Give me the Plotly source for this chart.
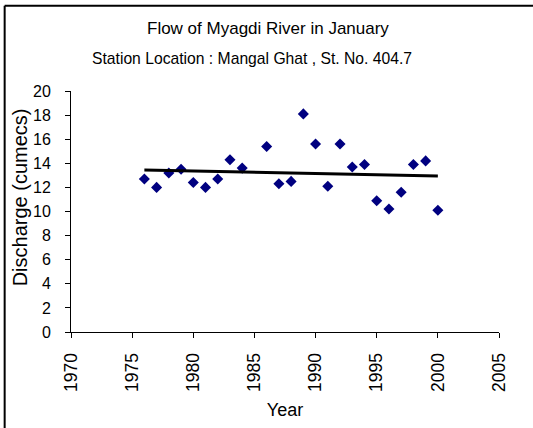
import numpy as np
import plotly.graph_objects as go

# January discharge, Myagdi River at Mangal Ghat (1985 missing)
years = [1976, 1977, 1978, 1979, 1980, 1981, 1982, 1983, 1984,
         1986, 1987, 1988, 1989, 1990, 1991, 1992, 1993, 1994,
         1995, 1996, 1997, 1998, 1999, 2000]
discharge = [12.7, 12.0, 13.2, 13.5, 12.4, 12.0, 12.7, 14.3, 13.6,
             15.4, 12.3, 12.5, 18.1, 15.6, 12.1, 15.6, 13.7, 13.9,
             10.9, 10.2, 11.6, 13.9, 14.2, 10.1]

x_ticks = [1970, 1975, 1980, 1985, 1990, 1995, 2000, 2005]
y_ticks = [0, 2, 4, 6, 8, 10, 12, 14, 16, 18, 20]

title_1 = "Flow of Myagdi River in January"
title_2 = "Station Location : Mangal Ghat , St. No. 404.7"
y_title = "Discharge (cumecs)"

# linear trend line
slope, intercept = np.polyfit(years, discharge, 1)
trend_x = [years[0], years[-1]]
trend_y = [slope * x + intercept for x in trend_x]

font = "Liberation Sans"

fig = go.Figure()
fig.add_scatter(x=years, y=discharge, mode="markers",
                marker=dict(symbol="diamond", size=8.5, color="#000080"),
                showlegend=False)
fig.add_scatter(x=trend_x, y=trend_y, mode="lines",
                line=dict(color="black", width=3), showlegend=False)

fig.update_xaxes(range=[1970, 2005], tickvals=x_ticks, tickangle=-90,
                 showgrid=False, zeroline=False, showline=True, linecolor="black",
                 linewidth=1, ticks="outside", ticklen=5, tickcolor="black",
                 tickfont=dict(size=17.5, color="black", family=font),
                 ticklabelstandoff=8,
                 title=dict(text="Year", standoff=12,
                            font=dict(size=18, color="black", family=font)))
fig.update_yaxes(range=[0, 20], tickvals=y_ticks,
                 showgrid=False, zeroline=False, showline=True, linecolor="black",
                 linewidth=1, ticks="outside", ticklen=5, tickcolor="black",
                 tickfont=dict(size=16, color="black", family=font),
                 ticklabelstandoff=11)

fig.add_annotation(text=y_title, xref="paper", yref="paper", x=-0.119, y=0.559,
                   xanchor="center", yanchor="middle", textangle=-90, showarrow=False,
                   font=dict(size=20, color="black", family=font))
fig.add_annotation(text=title_1, xref="paper", yref="paper", x=0.46, y=1.259,
                   xanchor="center", yanchor="middle", showarrow=False,
                   font=dict(size=17, color="black", family=font))
fig.add_annotation(text=title_2, xref="paper", yref="paper", x=0.4236, y=1.135,
                   xanchor="center", yanchor="middle", showarrow=False,
                   font=dict(size=15.7, color="black", family=font))

# chart-area border (only left and top edges visible in the crop)
border = dict(color="black", width=2)
fig.add_shape(type="line", xref="paper", yref="paper",
              x0=-0.155, x1=-0.155, y0=-0.5, y1=1.354, line=border)
fig.add_shape(type="line", xref="paper", yref="paper",
              x0=-0.155, x1=1.2, y0=1.354, y1=1.354, line=border)

fig.update_layout(width=533, height=428,
                  margin=dict(l=71, r=33.5, t=90.5, b=96),
                  paper_bgcolor="white", plot_bgcolor="white",
                  font=dict(family=font, color="black"))

# drop the page's default body margin so the figure sits at the window corner
fig.write_html("out.html", config={"displayModeBar": False},
               post_script="document.body.style.margin='0';")
